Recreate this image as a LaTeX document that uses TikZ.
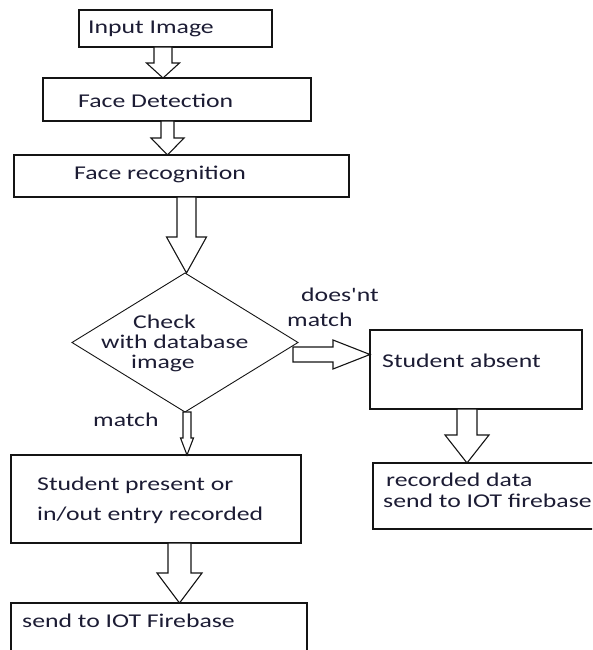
\documentclass[tikz,border=0pt]{standalone}
\usepackage{fontspec}
\setmainfont{Carlito}[FakeStretch=1.32, Ligatures=TeXOff]
\usetikzlibrary{calc,shapes.geometric}

\definecolor{ink}{RGB}{28,28,52}
\definecolor{edge}{RGB}{20,20,20}

\tikzset{
  box/.style={draw=edge, line width=1.1pt, fill=white, inner sep=0pt, outer sep=0pt},
  decision/.style={draw=edge, line width=0.9pt, diamond, inner sep=0pt, outer sep=0pt},
  lbl/.style={anchor=base west, inner sep=0pt, text=ink,
              font=\fontsize{19.5}{20}\selectfont, align=left},
  blockarrow/.style={draw=edge, line width=1.1pt, fill=white, line join=miter}
}

% vertical block arrow: from node, to node, x, shaft half width, head half width, head length
\newcommand{\vblock}[6]{%
  \draw[blockarrow] let \p1=(#1.south), \p2=(#2.north), \p3=(#3,0) in
    (\x3-#4pt,\y1) -- (\x3-#4pt,\y2+#6pt) -- (\x3-#5pt,\y2+#6pt) -- (\x3,\y2)
    -- (\x3+#5pt,\y2+#6pt) -- (\x3+#4pt,\y2+#6pt) -- (\x3+#4pt,\y1) -- cycle;}

% horizontal block arrow: from node, to node, y, shaft half width, head half width, head length, start inset
\newcommand{\hblock}[7]{%
  \draw[blockarrow] let \p1=(#1.east), \p2=(#2.west), \p3=(0,#3) in
    (\x1-#7pt,\y3+#4pt) -- (\x2-#6pt,\y3+#4pt) -- (\x2-#6pt,\y3+#5pt) -- (\x2,\y3)
    -- (\x2-#6pt,\y3-#5pt) -- (\x2-#6pt,\y3-#4pt) -- (\x1-#7pt,\y3-#4pt) -- cycle;}

\begin{document}
\begin{tikzpicture}[x=1pt, y=-1pt]
  \useasboundingbox (0,0) rectangle (592,650);
  \clip (0,0) rectangle (592,650);

  % process boxes
  \node[box, minimum width=193pt, minimum height=37pt] (input)   at (175.5,28.5) {};
  \node[box, minimum width=268pt, minimum height=43pt] (detect)  at (177,99.5)   {};
  \node[box, minimum width=335pt, minimum height=42pt] (recog)   at (181.5,176)  {};
  \node[decision, minimum width=226pt, minimum height=139pt] (check) at (185,342.5) {};
  \node[box, minimum width=212pt, minimum height=79pt] (absent)  at (476,369.5)  {};
  \node[box, minimum width=247pt, minimum height=66pt] (record)  at (496.5,496)  {};
  \node[box, minimum width=290pt, minimum height=88pt] (present) at (156,499)    {};
  \node[box, minimum width=296pt, minimum height=87pt] (firebase) at (159,646.5) {};

  % labels (multi-line labels sit on the baseline of their last line)
  \node[lbl] (tinput)   at (88,34)   {Input Image};
  \node[lbl] (tdetect)  at (78,107)  {Face Detection};
  \node[lbl] (trecog)   at (74,179)  {Face recognition};
  \node[lbl] (tcheck)   at (101,368) {\hspace*{32pt}Check\\with database\\\hspace*{30pt}image};
  \node[lbl] (tnomatch) at (287,326) {\hspace*{14pt}does'nt\\[5pt]match};
  \node[lbl] (tabsent)  at (382,367) {Student absent};
  \node[lbl] (trecord)  at (383,507) {\hspace*{3pt}recorded data\\[1pt]send to IOT firebase};
  \node[lbl] (tmatch)   at (93,426)  {match};
  \node[lbl] (tpresent) at (37,520)  {Student present or\\[10pt]in/out entry recorded};
  \node[lbl] (tfire)    at (22,627)  {send to IOT Firebase};

  % block arrows
  \vblock{input}{detect}{163}{9}{16.5}{15}
  \vblock{detect}{recog}{167.5}{6.5}{16.5}{17}
  \vblock{recog}{check}{186.5}{9.5}{20}{36}
  \vblock{check}{present}{187}{4}{6.5}{17}
  \vblock{absent}{record}{467}{10}{22}{28}
  \vblock{present}{firebase}{179.5}{11.5}{22.5}{30}
  \hblock{check}{absent}{354.5}{7.5}{14.5}{37}{5}
\end{tikzpicture}
\end{document}
